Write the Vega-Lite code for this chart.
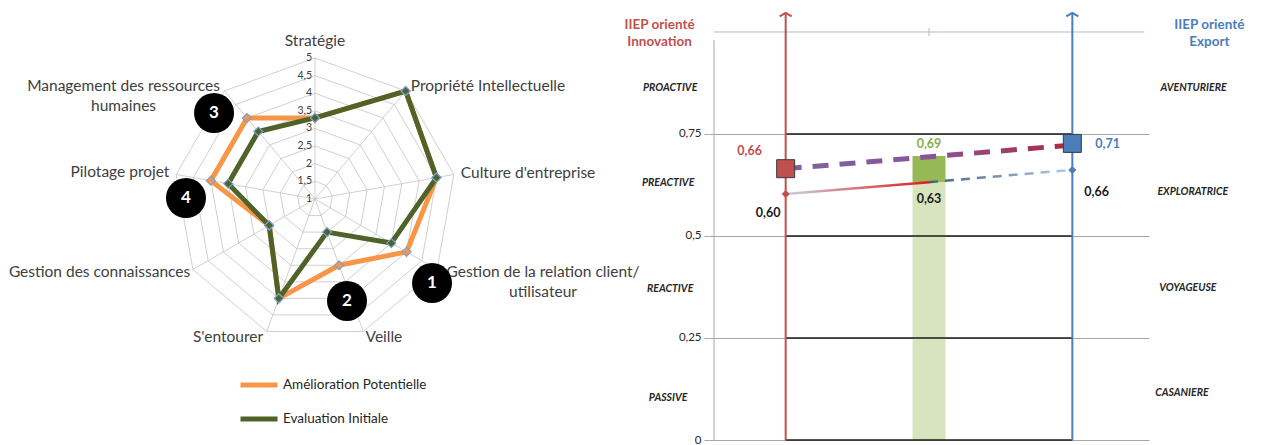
{
  "$schema": "https://vega.github.io/schema/vega-lite/v6.json",
  "background": "white",
  "padding": 0,
  "bounds": "flush",
  "spacing": 69,
  "resolve": {
    "scale": {"x": "independent", "y": "independent", "color": "independent"},
    "legend": {"color": "independent"}
  },
  "config": {"view": {"stroke": null}, "font": "Lato"},
  "datasets": {
    "radarGrid": [
      {"level": 1.5, "k": [0,1,2,3,4,5,6,7,8,9]},
      {"level": 2, "k": [0,1,2,3,4,5,6,7,8,9]},
      {"level": 2.5, "k": [0,1,2,3,4,5,6,7,8,9]},
      {"level": 3, "k": [0,1,2,3,4,5,6,7,8,9]},
      {"level": 3.5, "k": [0,1,2,3,4,5,6,7,8,9]},
      {"level": 4, "k": [0,1,2,3,4,5,6,7,8,9]},
      {"level": 4.5, "k": [0,1,2,3,4,5,6,7,8,9]},
      {"level": 5, "k": [0,1,2,3,4,5,6,7,8,9]}
    ],
    "radarAxes": [
      {"k": 0, "axe": "Stratégie", "lx": 0, "ly": 1.121},
      {"k": 1, "axe": "Propriété Intellectuelle", "lx": 1.227, "ly": 0.801},
      {"k": 2, "axe": "Culture d'entreprise", "lx": 1.511, "ly": 0.184},
      {"k": 3, "axe": "Gestion de la relation client/\nutilisateur", "lx": 1.617, "ly": -0.521},
      {"k": 4, "axe": "Veille", "lx": 0.489, "ly": -0.979},
      {"k": 5, "axe": "S'entourer", "lx": -0.617, "ly": -0.979},
      {"k": 6, "axe": "Gestion des connaissances", "lx": -1.528, "ly": -0.518},
      {"k": 7, "axe": "Pilotage projet", "lx": -1.383, "ly": 0.191},
      {"k": 8, "axe": "Management des ressources\nhumaines", "lx": -1.358, "ly": 0.801}
    ],
    "radarTicks": [
      {"v": 1, "t": "1"}, {"v": 1.5, "t": "1,5"}, {"v": 2, "t": "2"}, {"v": 2.5, "t": "2,5"},
      {"v": 3, "t": "3"}, {"v": 3.5, "t": "3,5"}, {"v": 4, "t": "4"}, {"v": 4.5, "t": "4,5"}, {"v": 5, "t": "5"}
    ],
    "radar": [
      {"series": "Amélioration Potentielle", "k": 0, "value": 3.3},
      {"series": "Amélioration Potentielle", "k": 1, "value": 5},
      {"series": "Amélioration Potentielle", "k": 2, "value": 4.5},
      {"series": "Amélioration Potentielle", "k": 3, "value": 4},
      {"series": "Amélioration Potentielle", "k": 4, "value": 3},
      {"series": "Amélioration Potentielle", "k": 5, "value": 4},
      {"series": "Amélioration Potentielle", "k": 6, "value": 2.5},
      {"series": "Amélioration Potentielle", "k": 7, "value": 4},
      {"series": "Amélioration Potentielle", "k": 8, "value": 4},
      {"series": "Amélioration Potentielle", "k": 9, "value": 3.3},
      {"series": "Evaluation Initiale", "k": 0, "value": 3.3},
      {"series": "Evaluation Initiale", "k": 1, "value": 5},
      {"series": "Evaluation Initiale", "k": 2, "value": 4.5},
      {"series": "Evaluation Initiale", "k": 3, "value": 3.5},
      {"series": "Evaluation Initiale", "k": 4, "value": 2},
      {"series": "Evaluation Initiale", "k": 5, "value": 4},
      {"series": "Evaluation Initiale", "k": 6, "value": 2.5},
      {"series": "Evaluation Initiale", "k": 7, "value": 3.5},
      {"series": "Evaluation Initiale", "k": 8, "value": 3.5},
      {"series": "Evaluation Initiale", "k": 9, "value": 3.3}
    ],
    "callouts": [
      {"n": "1", "cx": 0.83, "cy": -0.596},
      {"n": "2", "cx": 0.227, "cy": -0.723},
      {"n": "3", "cx": -0.716, "cy": 0.61},
      {"n": "4", "cx": -0.915, "cy": 0.007}
    ],
    "levels": [{"y": 0}, {"y": 0.25}, {"y": 0.5}, {"y": 0.75}],
    "topTicks": [{"pos": 0}, {"pos": 0.5}, {"pos": 1}],
    "poles": [
      {"g": "Innovation", "pos": 0, "title": "IIEP orienté\nInnovation", "tx": -0.44},
      {"g": "Export", "pos": 1, "title": "IIEP orienté\nExport", "tx": 1.478}
    ],
    "bar": [
      {"part": "initial", "pos": 0.5, "lo": 0, "hi": 0.632},
      {"part": "potentiel", "pos": 0.5, "lo": 0.632, "hi": 0.696}
    ],
    "trend": [
      {"line": "potentiel", "pos": 0, "v": 0.665},
      {"line": "potentiel", "pos": 1, "v": 0.723},
      {"line": "initialA", "pos": 0, "v": 0.603},
      {"line": "initialA", "pos": 0.5, "v": 0.632},
      {"line": "initialB", "pos": 0.5, "v": 0.632},
      {"line": "initialB", "pos": 1, "v": 0.662}
    ],
    "squares": [
      {"g": "Innovation", "pos": 0, "v": 0.665},
      {"g": "Export", "pos": 1, "v": 0.727}
    ],
    "diamonds": [
      {"g": "Innovation", "pos": 0, "v": 0.603},
      {"g": "Export", "pos": 1, "v": 0.662}
    ],
    "valueLabels": [
      {"t": "0,66", "g": "Innovation", "x": -0.126, "y": 0.708},
      {"t": "0,60", "g": "Initial", "x": -0.061, "y": 0.556},
      {"t": "0,69", "g": "Global", "x": 0.5, "y": 0.725},
      {"t": "0,63", "g": "Initial", "x": 0.5, "y": 0.591},
      {"t": "0,71", "g": "Export", "x": 1.123, "y": 0.725},
      {"t": "0,66", "g": "Initial", "x": 1.085, "y": 0.608}
    ],
    "zones": [
      {"t": "PROACTIVE", "x": -0.403, "y": 0.863},
      {"t": "PREACTIVE", "x": -0.41, "y": 0.63},
      {"t": "REACTIVE", "x": -0.403, "y": 0.37},
      {"t": "PASSIVE", "x": -0.41, "y": 0.103},
      {"t": "AVENTURIERE", "x": 1.423, "y": 0.863},
      {"t": "EXPLORATRICE", "x": 1.42, "y": 0.608},
      {"t": "VOYAGEUSE", "x": 1.403, "y": 0.373},
      {"t": "CASANIERE", "x": 1.382, "y": 0.115}
    ]
  },
  "hconcat": [
    {
      "width": 640,
      "height": 440,
      "layer": [
        {
          "data": {"name": "radarGrid"},
          "transform": [
            {"flatten": ["k"]},
            {"calculate": "(datum.level - 1) / 4 * sin(datum.k * 2 * PI / 9)", "as": "px"},
            {"calculate": "(datum.level - 1) / 4 * cos(datum.k * 2 * PI / 9)", "as": "py"}
          ],
          "mark": {"type": "line", "stroke": "#c4c4c4", "strokeWidth": 0.8},
          "encoding": {
            "x": {"field": "px", "type": "quantitative", "scale": {"domain": [-2.234, 2.305], "nice": false, "zero": false}, "axis": null},
            "y": {"field": "py", "type": "quantitative", "scale": {"domain": [-1.7092, 1.4113], "nice": false, "zero": false}, "axis": null},
            "detail": {"field": "level", "type": "nominal"},
            "order": {"field": "k", "type": "quantitative"}
          }
        },
        {
          "data": {"name": "radarAxes"},
          "transform": [
            {"calculate": "0", "as": "ox"},
            {"calculate": "sin(datum.k * 2 * PI / 9)", "as": "ex"},
            {"calculate": "cos(datum.k * 2 * PI / 9)", "as": "ey"}
          ],
          "mark": {"type": "rule", "stroke": "#c4c4c4", "strokeWidth": 0.8},
          "encoding": {
            "x": {"field": "ox", "type": "quantitative"},
            "y": {"field": "ox", "type": "quantitative"},
            "x2": {"field": "ex"},
            "y2": {"field": "ey"}
          }
        },
        {
          "data": {"name": "radarTicks"},
          "transform": [{"calculate": "(datum.v - 1) / 4", "as": "py"}, {"calculate": "0", "as": "px"}],
          "mark": {"type": "text", "align": "right", "baseline": "middle", "dx": -3, "fontSize": 10.5, "color": "#404040"},
          "encoding": {
            "x": {"field": "px", "type": "quantitative"},
            "y": {"field": "py", "type": "quantitative"},
            "text": {"field": "t", "type": "nominal"}
          }
        },
        {
          "data": {"name": "radar"},
          "transform": [
            {"calculate": "(datum.value - 1) / 4 * sin(datum.k * 2 * PI / 9)", "as": "px"},
            {"calculate": "(datum.value - 1) / 4 * cos(datum.k * 2 * PI / 9)", "as": "py"}
          ],
          "mark": {"type": "line", "strokeWidth": 5, "strokeJoin": "miter"},
          "encoding": {
            "x": {"field": "px", "type": "quantitative"},
            "y": {"field": "py", "type": "quantitative"},
            "order": {"field": "k", "type": "quantitative"},
            "color": {
              "field": "series", "type": "nominal",
              "scale": {"domain": ["Amélioration Potentielle", "Evaluation Initiale"], "range": ["#f79646", "#4f6228"]},
              "legend": {
                "orient": "none", "legendX": 238, "legendY": 364, "title": null,
                "symbolType": "stroke", "symbolStrokeWidth": 5, "symbolSize": 1369,
                "labelFontSize": 13.5, "labelColor": "#262626", "labelFont": "Lato",
                "rowPadding": 3, "labelOffset": 3, "padding": 0
              }
            }
          }
        },
        {
          "data": {"name": "radar"},
          "transform": [
            {"filter": "datum.k < 9"},
            {"calculate": "(datum.value - 1) / 4 * sin(datum.k * 2 * PI / 9)", "as": "px"},
            {"calculate": "(datum.value - 1) / 4 * cos(datum.k * 2 * PI / 9)", "as": "py"}
          ],
          "mark": {"type": "point", "shape": "diamond", "filled": true, "size": 81, "stroke": "#7aa0d4", "strokeWidth": 1.2, "opacity": 1},
          "encoding": {
            "x": {"field": "px", "type": "quantitative"},
            "y": {"field": "py", "type": "quantitative"},
            "color": {"field": "series", "type": "nominal", "legend": null}
          }
        },
        {
          "data": {"name": "radarAxes"},
          "mark": {"type": "text", "align": "center", "baseline": "middle", "fontSize": 15.5, "color": "#404040", "lineBreak": "\n", "lineHeight": 20},
          "encoding": {
            "x": {"field": "lx", "type": "quantitative"},
            "y": {"field": "ly", "type": "quantitative"},
            "text": {"field": "axe", "type": "nominal"}
          }
        },
        {
          "data": {"name": "callouts"},
          "mark": {"type": "point", "shape": "circle", "filled": true, "color": "#000000", "size": 1600, "opacity": 1},
          "encoding": {
            "x": {"field": "cx", "type": "quantitative"},
            "y": {"field": "cy", "type": "quantitative"}
          }
        },
        {
          "data": {"name": "callouts"},
          "mark": {"type": "text", "align": "center", "baseline": "middle", "fontSize": 17, "fontWeight": "bold", "color": "#ffffff"},
          "encoding": {
            "x": {"field": "cx", "type": "quantitative"},
            "y": {"field": "cy", "type": "quantitative"},
            "text": {"field": "n", "type": "nominal"}
          }
        }
      ]
    },
    {
      "width": 440,
      "height": 440,
      "layer": [
        {
          "data": {"name": "bar"},
          "transform": [{"filter": "datum.part === 'initial'"}],
          "mark": {"type": "bar", "size": 33, "color": "#d7e4bd"},
          "encoding": {
            "x": {"field": "pos", "type": "quantitative", "scale": {"domain": [-0.25, 1.25], "nice": false, "zero": false}, "axis": null},
            "y": {
              "field": "lo", "type": "quantitative",
              "scale": {"domain": [0, 1.07843], "nice": false, "zero": false},
              "axis": {
                "values": [0, 0.25, 0.5, 0.75], "grid": true, "gridColor": "#a6a6a6", "gridWidth": 1,
                "domain": false, "ticks": true, "tickColor": "#a6a6a6", "tickSize": 5, "labelPadding": 3,
                "labelExpr": "replace(toString(datum.value), '.', ',')",
                "labelFontSize": 11.5, "labelColor": "#262626", "labelFont": "Lato", "title": null
              }
            },
            "y2": {"field": "hi"}
          }
        },
        {
          "data": {"name": "bar"},
          "transform": [{"filter": "datum.part === 'potentiel'"}],
          "mark": {"type": "bar", "size": 33, "color": "#97b955"},
          "encoding": {
            "x": {"field": "pos", "type": "quantitative"},
            "y": {"field": "lo", "type": "quantitative"},
            "y2": {"field": "hi"}
          }
        },
        {
          "data": {"name": "levels"},
          "transform": [{"calculate": "0", "as": "a"}, {"calculate": "1", "as": "b"}],
          "mark": {"type": "rule", "color": "#1a1a1a", "strokeWidth": 1.5},
          "encoding": {
            "y": {"field": "y", "type": "quantitative"},
            "x": {"field": "a", "type": "quantitative"},
            "x2": {"field": "b"}
          }
        },
        {
          "data": {"values": [{"y": 1, "a": -0.25, "b": 1.25}]},
          "mark": {"type": "rule", "color": "#a7bdd6", "strokeWidth": 1},
          "encoding": {
            "y": {"field": "y", "type": "quantitative"},
            "x": {"field": "a", "type": "quantitative"},
            "x2": {"field": "b"}
          }
        },
        {
          "data": {"name": "topTicks"},
          "transform": [{"calculate": "0.99", "as": "y1"}, {"calculate": "1.01", "as": "y2"}],
          "mark": {"type": "rule", "color": "#a7bdd6", "strokeWidth": 1},
          "encoding": {
            "x": {"field": "pos", "type": "quantitative"},
            "y": {"field": "y1", "type": "quantitative"},
            "y2": {"field": "y2"}
          }
        },
        {
          "data": {"values": [{"x": -0.25, "y1": 0, "y2": 0.98}]},
          "mark": {"type": "rule", "color": "#a6a6a6", "strokeWidth": 1},
          "encoding": {
            "x": {"field": "x", "type": "quantitative"},
            "y": {"field": "y1", "type": "quantitative"},
            "y2": {"field": "y2"}
          }
        },
        {
          "data": {"name": "poles"},
          "transform": [{"calculate": "0", "as": "y1"}, {"calculate": "1.047", "as": "y2"}],
          "mark": {"type": "rule", "strokeWidth": 2},
          "encoding": {
            "x": {"field": "pos", "type": "quantitative"},
            "y": {"field": "y1", "type": "quantitative"},
            "y2": {"field": "y2"},
            "color": {
              "field": "g", "type": "nominal", "legend": null,
              "scale": {"domain": ["Innovation", "Export", "Global", "Initial"], "range": ["#c0504d", "#4a7ebb", "#8aac4c", "#1a1a1a"]}
            }
          }
        },
        {
          "data": {"name": "poles"},
          "transform": [{"calculate": "1.047", "as": "y2"}],
          "mark": {"type": "point", "shape": "M-1,0.6L0,0L1,0.6", "filled": false, "size": 144, "strokeWidth": 2, "opacity": 1},
          "encoding": {
            "x": {"field": "pos", "type": "quantitative"},
            "y": {"field": "y2", "type": "quantitative"},
            "color": {"field": "g", "type": "nominal", "legend": null}
          }
        },
        {
          "data": {"name": "poles"},
          "transform": [{"calculate": "1.018", "as": "ty"}],
          "mark": {"type": "text", "align": "center", "baseline": "middle", "fontSize": 13.5, "fontWeight": "bold", "lineBreak": "\n", "lineHeight": 17},
          "encoding": {
            "x": {"field": "tx", "type": "quantitative"},
            "y": {"field": "ty", "type": "quantitative"},
            "text": {"field": "title", "type": "nominal"},
            "color": {"field": "g", "type": "nominal", "legend": null}
          }
        },
        {
          "data": {"name": "trend"},
          "transform": [{"filter": "datum.line === 'potentiel'"}],
          "mark": {
            "type": "line", "strokeWidth": 5, "strokeDash": [16, 11],
            "stroke": {"gradient": "linear", "x1": 0, "y1": 0, "x2": 1, "y2": 0,
              "stops": [{"offset": 0, "color": "#7d62a6"}, {"offset": 0.5, "color": "#8a5597"}, {"offset": 1, "color": "#ad2a3d"}]}
          },
          "encoding": {
            "x": {"field": "pos", "type": "quantitative"},
            "y": {"field": "v", "type": "quantitative"}
          }
        },
        {
          "data": {"name": "trend"},
          "transform": [{"filter": "datum.line === 'initialA'"}],
          "mark": {
            "type": "line", "strokeWidth": 2.5,
            "stroke": {"gradient": "linear", "x1": 0, "y1": 0, "x2": 1, "y2": 0,
              "stops": [{"offset": 0, "color": "#c9d1e1"}, {"offset": 1, "color": "#e3191c"}]}
          },
          "encoding": {
            "x": {"field": "pos", "type": "quantitative"},
            "y": {"field": "v", "type": "quantitative"}
          }
        },
        {
          "data": {"name": "trend"},
          "transform": [{"filter": "datum.line === 'initialB'"}],
          "mark": {
            "type": "line", "strokeWidth": 2.5, "strokeDash": [9, 7],
            "stroke": {"gradient": "linear", "x1": 0, "y1": 0, "x2": 1, "y2": 0,
              "stops": [{"offset": 0, "color": "#3d6282"}, {"offset": 1, "color": "#bccbe2"}]}
          },
          "encoding": {
            "x": {"field": "pos", "type": "quantitative"},
            "y": {"field": "v", "type": "quantitative"}
          }
        },
        {
          "data": {"name": "squares"},
          "mark": {"type": "point", "shape": "square", "filled": true, "size": 324, "stroke": "#3a3a3a", "strokeWidth": 1, "opacity": 1},
          "encoding": {
            "x": {"field": "pos", "type": "quantitative"},
            "y": {"field": "v", "type": "quantitative"},
            "color": {"field": "g", "type": "nominal", "legend": null}
          }
        },
        {
          "data": {"name": "diamonds"},
          "mark": {"type": "point", "shape": "diamond", "filled": true, "size": 64, "opacity": 1},
          "encoding": {
            "x": {"field": "pos", "type": "quantitative"},
            "y": {"field": "v", "type": "quantitative"},
            "color": {"field": "g", "type": "nominal", "legend": null}
          }
        },
        {
          "data": {"name": "valueLabels"},
          "mark": {"type": "text", "align": "center", "baseline": "middle", "fontSize": 12.5, "fontWeight": "bold"},
          "encoding": {
            "x": {"field": "x", "type": "quantitative"},
            "y": {"field": "y", "type": "quantitative"},
            "text": {"field": "t", "type": "nominal"},
            "color": {"field": "g", "type": "nominal", "legend": null}
          }
        },
        {
          "data": {"name": "zones"},
          "mark": {"type": "text", "align": "center", "baseline": "middle", "fontSize": 10.5, "fontWeight": "bold", "fontStyle": "italic", "color": "#262626"},
          "encoding": {
            "x": {"field": "x", "type": "quantitative"},
            "y": {"field": "y", "type": "quantitative"},
            "text": {"field": "t", "type": "nominal"}
          }
        }
      ]
    }
  ]
}
